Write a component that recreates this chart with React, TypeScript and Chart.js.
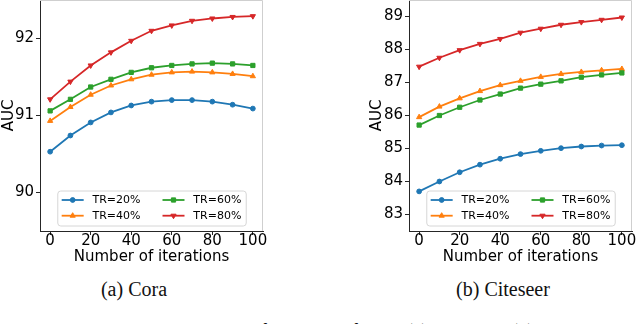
import React, { useEffect, useRef } from "react";
import { Chart, registerables } from "chart.js";
Chart.register(...registerables);

// ---------- data ----------
const iterations = [0, 10, 20, 30, 40, 50, 60, 70, 80, 90, 100];
const xTickValues = [0, 20, 40, 60, 80, 100];
const seriesLabels = ["TR=20%", "TR=40%", "TR=60%", "TR=80%"];

const coraTR20 = [90.53, 90.74, 90.91, 91.04, 91.13, 91.18, 91.2, 91.2, 91.18, 91.14, 91.09];
const coraTR40 = [90.93, 91.11, 91.27, 91.39, 91.47, 91.53, 91.56, 91.57, 91.56, 91.54, 91.51];
const coraTR60 = [91.06, 91.21, 91.37, 91.47, 91.56, 91.62, 91.65, 91.67, 91.68, 91.67, 91.65];
const coraTR80 = [91.21, 91.44, 91.65, 91.82, 91.97, 92.1, 92.17, 92.23, 92.26, 92.28, 92.29];
const coraYTicks = [90, 91, 92];

const citeTR20 = [83.7, 84.0, 84.28, 84.51, 84.69, 84.83, 84.93, 85.01, 85.06, 85.09, 85.1];
const citeTR40 = [85.95, 86.27, 86.52, 86.74, 86.92, 87.05, 87.17, 87.26, 87.32, 87.37, 87.41];
const citeTR60 = [85.71, 86.0, 86.25, 86.47, 86.65, 86.83, 86.95, 87.05, 87.16, 87.23, 87.29];
const citeTR80 = [87.48, 87.75, 87.98, 88.17, 88.32, 88.51, 88.63, 88.75, 88.83, 88.9, 88.97];
const citeYTicks = [83, 84, 85, 86, 87, 88, 89];

// ---------- styles ----------
const COLORS = ["#1f77b4", "#ff7f0e", "#2ca02c", "#d62728"];
const MARKERS = [
  { style: "circle", rot: 0, r: 2.4 },
  { style: "triangle", rot: 0, r: 3.0 },
  { style: "rect", rot: 0, r: 3.0 },
  { style: "triangle", rot: 180, r: 3.0 },
];
const FONT = '"DejaVu Sans", sans-serif';
const AXIS_DARK = "#262626";

function drawMarker(ctx: CanvasRenderingContext2D, i: number, x: number, y: number) {
  const m = MARKERS[i];
  ctx.save();
  ctx.fillStyle = COLORS[i];
  ctx.strokeStyle = COLORS[i];
  ctx.lineWidth = 1;
  ctx.translate(x, y);
  ctx.rotate((m.rot * Math.PI) / 180);
  ctx.beginPath();
  if (m.style === "circle") {
    ctx.arc(0, 0, m.r, 0, Math.PI * 2);
  } else if (m.style === "rect") {
    const s = m.r * Math.SQRT1_2;
    ctx.rect(-s, -s, 2 * s, 2 * s);
  } else {
    const r = m.r;
    ctx.moveTo(0, -r);
    ctx.lineTo(r * Math.sin(Math.PI / 3), r * 0.5);
    ctx.lineTo(-r * Math.sin(Math.PI / 3), r * 0.5);
    ctx.closePath();
  }
  ctx.fill();
  ctx.stroke();
  ctx.restore();
}

const mplFrame = {
  id: "mplFrame",
  afterDraw(chart: any) {
    const ctx: CanvasRenderingContext2D = chart.ctx;
    const ca = chart.chartArea;
    ctx.save();
    // light top/right spines
    ctx.strokeStyle = "#cfcfcf";
    ctx.lineWidth = 1;
    ctx.beginPath();
    ctx.moveTo(ca.left, ca.top + 0.5);
    ctx.lineTo(ca.right - 0.5, ca.top + 0.5);
    ctx.lineTo(ca.right - 0.5, ca.bottom);
    ctx.stroke();

    // matplotlib-like legend, lower center, 2 columns
    const fs = 11;
    ctx.font = `${fs}px ${FONT}`;
    const textW = Math.max(...seriesLabels.map((l) => ctx.measureText(l).width));
    const borderPad = 0.4 * fs;
    const handleLen = 2 * fs;
    const handlePad = 0.8 * fs;
    const colSpace = 2 * fs;
    const colW = handleLen + handlePad + textW;
    const boxW = 2 * borderPad + 2 * colW + colSpace;
    const boxH = 35;
    const boxX = (ca.left + ca.right) / 2 - boxW / 2;
    const boxY = ca.bottom - 0.5 * fs - boxH;

    ctx.globalAlpha = 0.8;
    ctx.fillStyle = "#ffffff";
    ctx.beginPath();
    (ctx as any).roundRect(boxX + 0.5, boxY + 0.5, boxW, boxH, 3);
    ctx.fill();
    ctx.globalAlpha = 1;
    ctx.strokeStyle = "#d6d6d6";
    ctx.lineWidth = 1;
    ctx.stroke();

    for (let i = 0; i < seriesLabels.length; i++) {
      const col = Math.floor(i / 2);
      const row = i % 2;
      const hx = boxX + borderPad + col * (colW + colSpace);
      const ry = boxY + 9.5 + row * 15.7;
      ctx.strokeStyle = COLORS[i];
      ctx.lineWidth = 1.8;
      ctx.beginPath();
      ctx.moveTo(hx, ry);
      ctx.lineTo(hx + handleLen, ry);
      ctx.stroke();
      drawMarker(ctx, i, hx + handleLen / 2, ry);
      ctx.fillStyle = "#000";
      ctx.font = `${fs}px ${FONT}`;
      ctx.textBaseline = "middle";
      ctx.textAlign = "left";
      ctx.fillText(seriesLabels[i], hx + handleLen + handlePad, ry + 0.5);
    }
    ctx.restore();
  },
};

type PanelProps = {
  left: number;
  width: number;
  height: number;
  yAxisWidth: number;
  padRight: number;
  series: number[][];
  yMin: number;
  yMax: number;
  yTicks: number[];
};

function Panel({ left, width, height, yAxisWidth, padRight, series, yMin, yMax, yTicks }: PanelProps) {
  const ref = useRef<HTMLCanvasElement>(null);
  useEffect(() => {
    const tickFont = { family: FONT, size: 15 };
    const chart = new Chart(ref.current as HTMLCanvasElement, {
      type: "line",
      data: {
        datasets: series.map((vals, i) => ({
          label: seriesLabels[i],
          data: iterations.map((x, j) => ({ x, y: vals[j] })),
          borderColor: COLORS[i],
          backgroundColor: COLORS[i],
          borderWidth: 1.8,
          pointStyle: MARKERS[i].style as any,
          pointRotation: MARKERS[i].rot,
          pointRadius: MARKERS[i].r,
          pointBorderWidth: 1,
          pointBorderColor: COLORS[i],
          pointBackgroundColor: COLORS[i],
          tension: 0,
          fill: false,
          order: 4 - i,
        })),
      },
      options: {
        animation: false,
        responsive: false,
        layout: { autoPadding: false, padding: { left: 0, right: padRight, top: 0, bottom: 0 } },
        plugins: { legend: { display: false }, tooltip: { enabled: false } },
        scales: {
          x: {
            type: "linear",
            min: -5,
            max: 105,
            afterBuildTicks: (s: any) => {
              s.ticks = xTickValues.map((v) => ({ value: v }));
            },
            afterFit: (s: any) => {
              s.height = 35;
              s.paddingLeft = 0;
              s.paddingRight = 0;
            },
            ticks: { autoSkip: false, maxRotation: 0, padding: -3, color: "#000", font: tickFont },
            grid: { drawOnChartArea: false, drawTicks: true, tickLength: 4, color: AXIS_DARK },
            border: { display: true, color: AXIS_DARK, width: 1 },
            title: {
              display: true,
              text: "Number of iterations",
              color: "#000",
              font: tickFont,
              padding: { top: 0, bottom: 0 },
            },
          },
          y: {
            type: "linear",
            min: yMin,
            max: yMax,
            afterBuildTicks: (s: any) => {
              s.ticks = yTicks.map((v) => ({ value: v }));
            },
            afterFit: (s: any) => {
              s.width = yAxisWidth;
              s.paddingTop = 0;
              s.paddingBottom = 0;
            },
            ticks: { autoSkip: false, padding: 2, color: "#000", font: tickFont },
            grid: { drawOnChartArea: false, drawTicks: true, tickLength: 4, color: AXIS_DARK },
            border: { display: true, color: AXIS_DARK, width: 1 },
            title: {
              display: true,
              text: "AUC",
              color: "#000",
              font: tickFont,
              padding: { top: 0, bottom: 0 },
            },
          },
        },
      } as any,
      plugins: [mplFrame],
    });
    return () => chart.destroy();
  }, []);
  return (
    <canvas
      ref={ref}
      width={width}
      height={height}
      style={{ position: "absolute", left, top: 0, width, height, display: "block" }}
    />
  );
}

const serifText: React.CSSProperties = {
  position: "absolute",
  fontFamily: '"Liberation Serif", serif',
  fontSize: 20,
  lineHeight: "20px",
  color: "#111",
  whiteSpace: "nowrap",
};

const captionStyle: React.CSSProperties = {
  ...serifText,
  width: 200,
  textAlign: "center",
};

export default function App() {
  return (
    <div
      style={{
        position: "absolute",
        left: 0,
        top: 0,
        width: 640,
        height: 324,
        overflow: "hidden",
        background: "#fff",
      }}
    >
      <Panel
        left={0}
        width={280}
        height={266}
        yAxisWidth={40}
        padRight={17}
        series={[coraTR20, coraTR40, coraTR60, coraTR80]}
        yMin={89.5}
        yMax={92.5}
        yTicks={coraYTicks}
      />
      <Panel
        left={368}
        width={272}
        height={266}
        yAxisWidth={41}
        padRight={8}
        series={[citeTR20, citeTR40, citeTR60, citeTR80]}
        yMin={82.5}
        yMax={89.5}
        yTicks={citeYTicks}
      />
      <div style={{ ...captionStyle, left: 34, top: 279 }}>(a) Cora</div>
      <div style={{ ...captionStyle, left: 403, top: 279 }}>(b) Citeseer</div>
      <div style={{ ...serifText, right: 236, top: 321 }}>
        Figure 4: AUC scores versus the number of iterations for the
      </div>
      <div style={{ ...serifText, left: 406, top: 321 }}>(a) Cora and (b) Citeseer datasets.</div>
    </div>
  );
}
